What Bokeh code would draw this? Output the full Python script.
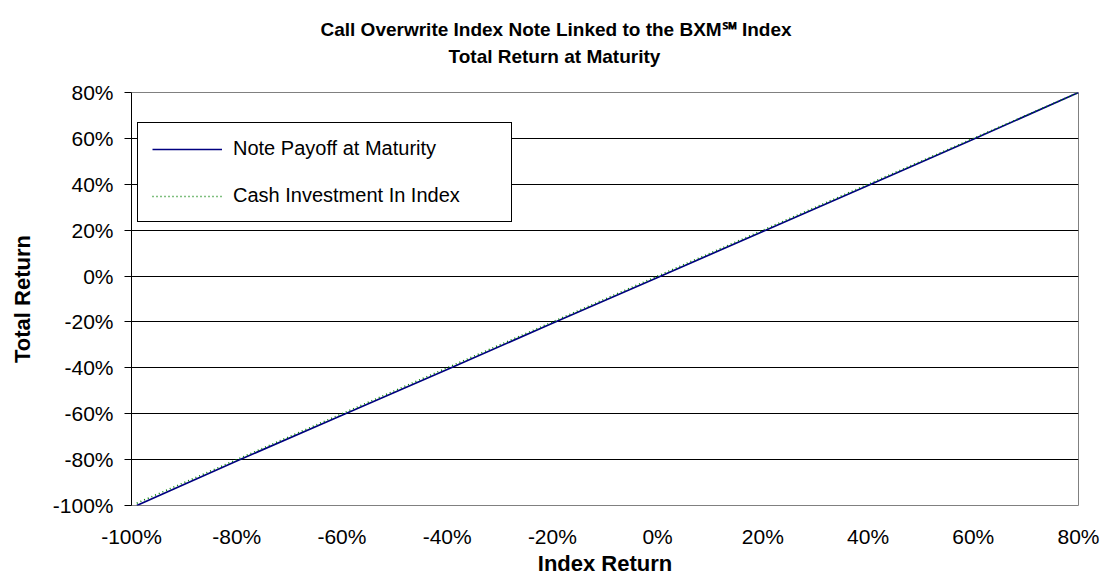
from bokeh.plotting import figure
from bokeh.models import FixedTicker, Legend, LegendItem, Range1d, Title, LinearAxis
from bokeh.embed import file_html
from bokeh.resources import INLINE

# ---- data ----
title_line1 = "Call Overwrite Index Note Linked to the BXM\u2120 Index"
title_line2 = "Total Return at Maturity"
x_title = "Index Return"
y_title = "Total Return"
series_names = ["Note Payoff at Maturity", "Cash Investment In Index"]
tick_values = [-100, -80, -60, -40, -20, 0, 20, 40, 60, 80]
tick_labels = ["-100%", "-80%", "-60%", "-40%", "-20%", "0%", "20%", "40%", "60%", "80%"]
index_return = [-99, -80, -60, -40, -20, 0, 20, 40, 60, 80]
note_payoff = [-100, -80.6, -60.7, -40.7, -20.6, -0.6, 19.4, 39.5, 59.6, 80]
cash_investment = [-99, -80, -60, -40, -20, 0, 20, 40, 60, 80]

FONT = "Liberation Sans"

p = figure(width=1103, height=578, output_backend="svg", toolbar_location=None,
           x_range=Range1d(-100, 80), y_range=Range1d(-100, 80),
           min_border_left=131, min_border_right=25, min_border_top=92,
           min_border_bottom=73)
p.background_fill_color = "white"
p.border_fill_color = "white"
p.outline_line_color = "#808080"
p.outline_line_width = 1

overrides = {v: l for v, l in zip(tick_values, tick_labels)}

# y axis
p.yaxis.ticker = FixedTicker(ticks=tick_values)
p.yaxis.major_label_overrides = overrides
p.yaxis.axis_line_color = "black"
p.yaxis.major_tick_line_color = "black"
p.yaxis.major_tick_out = 7
p.yaxis.major_tick_in = 0
p.yaxis.minor_tick_line_color = None
p.yaxis.major_label_standoff = 11
p.yaxis.major_label_text_font = FONT
p.yaxis.major_label_text_font_size = "21px"
p.yaxis.major_label_text_color = "black"
p.yaxis.axis_label = y_title
p.yaxis.axis_label_text_font = FONT
p.yaxis.axis_label_text_font_style = "bold"
p.yaxis.axis_label_text_font_size = "22px"
p.yaxis.axis_label_text_color = "black"
p.yaxis.axis_label_standoff = 15

# x axis
p.xaxis.ticker = FixedTicker(ticks=tick_values)
p.xaxis.major_label_overrides = overrides
p.xaxis.axis_line_color = None
p.xaxis.major_tick_line_color = None
p.xaxis.major_tick_out = 0
p.xaxis.major_tick_in = 0
p.xaxis.minor_tick_line_color = None
p.xaxis.major_label_standoff = 19
p.xaxis.major_label_text_font = FONT
p.xaxis.major_label_text_font_size = "21px"
p.xaxis.major_label_text_color = "black"
p.xaxis.axis_label = x_title
p.xaxis.axis_label_text_font = FONT
p.xaxis.axis_label_text_font_style = "bold"
p.xaxis.axis_label_text_font_size = "22px"
p.xaxis.axis_label_text_color = "black"
p.xaxis.axis_label_standoff = 0

# grid
p.xgrid.grid_line_color = None
p.ygrid.ticker = FixedTicker(ticks=tick_values[1:-1])
p.ygrid.grid_line_color = "black"
p.ygrid.grid_line_width = 1

# series
r_note = p.line(index_return, note_payoff, line_color="#000080", line_width=1.7)
r_cash = p.line(index_return, cash_investment, line_color="#008000", line_width=1.6,
                line_dash="1 3")

legend = Legend(items=[LegendItem(label=series_names[0], renderers=[r_note]),
                       LegendItem(label=series_names[1], renderers=[r_cash])],
                location=(6, 283))
legend.border_line_color = "black"
legend.border_line_width = 1
legend.border_line_alpha = 1
legend.background_fill_color = "white"
legend.background_fill_alpha = 1
legend.label_text_font = FONT
legend.label_text_font_size = "20px"
legend.label_text_color = "black"
legend.glyph_width = 70
legend.glyph_height = 22
legend.label_height = 22
legend.label_standoff = 11
legend.label_width = 264
legend.spacing = 24
legend.padding = 14
legend.margin = 0
p.add_layout(legend)

# spacer between the plot frame and the two title lines (one white tick, empty label)
spacer = LinearAxis(ticker=FixedTicker(ticks=[-100]), axis_line_color=None,
                    major_tick_line_color="white", minor_tick_line_color=None,
                    major_tick_out=23, major_tick_in=0, minor_tick_out=0,
                    major_label_standoff=0, major_label_overrides={-100: ""},
                    major_label_text_font_size="1px")
p.add_layout(spacer, "above")

# two-line title, closest-to-frame first
p.add_layout(Title(text=title_line2, align="left", offset=317, standoff=4,
                   vertical_align="middle", text_font=FONT, text_font_style="bold",
                   text_font_size="19px", text_color="black"), "above")
p.add_layout(Title(text=title_line1, align="left", offset=189, standoff=3,
                   vertical_align="middle", text_font=FONT, text_font_style="bold",
                   text_font_size="19px", text_color="black"), "above")

open("out.html", "w").write(file_html(p, INLINE))
